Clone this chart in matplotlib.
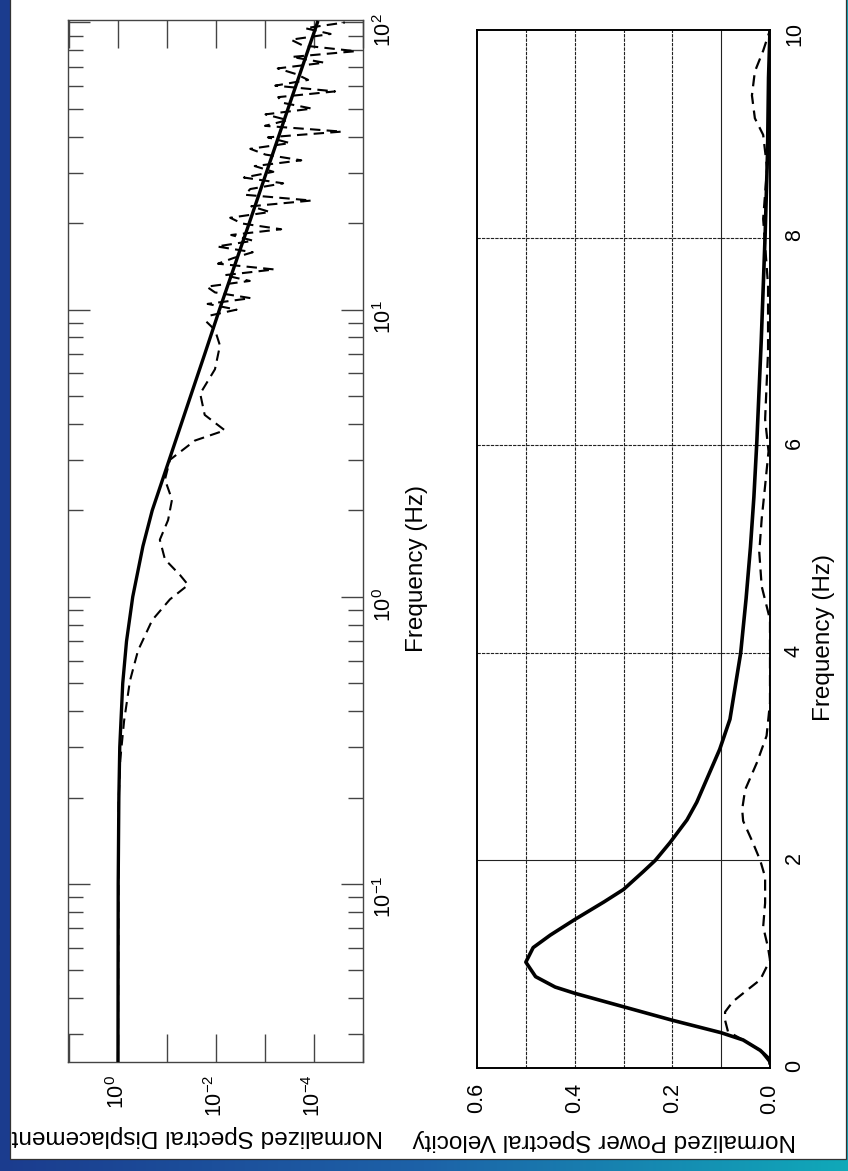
import numpy as np
import matplotlib
matplotlib.use("Agg")
import matplotlib.pyplot as plt
from matplotlib.patches import Rectangle
from matplotlib.colors import LinearSegmentedColormap
from matplotlib.ticker import LogLocator, NullFormatter, NullLocator

plt.rcParams['font.family'] = ['Liberation Sans', 'DejaVu Sans']
plt.rcParams['mathtext.default'] = 'regular'

# --- displacement spectrum (log-log) ---
disp_freq_model = [0.024, 0.1, 0.2, 0.3, 0.5, 0.7, 1.0, 1.5, 2.0, 3.0, 5.0, 7.0, 10.0, 20.0, 50.0, 100.0]
disp_model = [1.0, 0.99, 0.96, 0.92, 0.8, 0.67, 0.5, 0.31, 0.2, 0.09, 0.033, 0.017, 0.0085, 0.0021, 0.00034, 0.000085]

disp_freq_smooth = [0.024, 0.196, 0.27, 0.37, 0.51, 0.65, 0.83, 0.98, 1.1, 1.19, 1.35, 1.58,
                    1.85, 2.18, 2.56, 3.0, 3.5, 3.8, 4.3, 5.1, 6.2, 7.5, 8.5, 9.2]
disp_smooth = [1.0, 0.97, 0.9, 0.75, 0.57, 0.39, 0.2, 0.087, 0.037, 0.054, 0.11, 0.14,
               0.095, 0.079, 0.11, 0.087, 0.027, 0.0066, 0.017, 0.021, 0.0105, 0.0083, 0.0105, 0.017]

# high-frequency part of the observed spectrum, stored as log10 values
disp_logf_rough = [0.98, 1.00, 1.02, 1.04, 1.06, 1.08, 1.10, 1.12, 1.14, 1.16, 1.18, 1.20, 1.22,
                   1.24, 1.26, 1.28, 1.30, 1.32, 1.34, 1.36, 1.38, 1.40, 1.42, 1.44, 1.46, 1.48,
                   1.50, 1.52, 1.54, 1.56, 1.58, 1.60, 1.62, 1.64, 1.66, 1.68, 1.70, 1.72, 1.74,
                   1.76, 1.78, 1.80, 1.82, 1.84, 1.86, 1.88, 1.90, 1.92, 1.94, 1.96, 1.98, 2.00]
disp_logv_rough = [-1.89, -2.42, -1.83, -2.71, -1.98, -1.81, -2.69, -2.17, -3.19, -2.04, -2.36, -2.75, -2.02,
                   -2.76, -2.31, -3.33, -2.53, -2.29, -3.10, -2.72, -3.95, -2.59, -2.70, -3.37, -2.57, -3.17,
                   -2.79, -3.74, -3.01, -2.70, -3.51, -3.06, -4.57, -3.00, -3.46, -3.01, -3.96, -3.37, -3.27,
                   -4.43, -3.21, -3.88, -3.64, -3.26, -4.21, -3.55, -4.85, -3.77, -3.53, -4.34, -3.82, -4.63]

disp_ticks = [1e1, 1e0, 1e-1, 1e-2, 1e-3, 1e-4, 1e-5]
disp_tick_labels = ['', '$10^{0}$', '', '$10^{-2}$', '', '$10^{-4}$', '']

# --- power spectral velocity (linear) ---
vel_freq_model = [0.05, 0.08, 0.17, 0.27, 0.34, 0.46, 0.59, 0.72, 0.78, 0.88, 1.02, 1.16, 1.28, 1.43,
                  1.6, 1.72, 1.89, 2.0, 2.17, 2.39, 2.56, 3.07, 3.36, 4.0, 4.52, 5.02, 5.5, 6.03,
                  7.0, 8.02, 8.83, 9.54, 10.0]
vel_model = [0.0, 0.0, 0.02, 0.055, 0.1, 0.2, 0.3, 0.4, 0.44, 0.48, 0.5, 0.485, 0.45, 0.40,
             0.34, 0.30, 0.26, 0.235, 0.205, 0.17, 0.15, 0.103, 0.082, 0.06, 0.049, 0.040, 0.033, 0.027,
             0.018, 0.01, 0.005, 0.003, 0.0]

vel_freq_data = [0.05, 0.17, 0.27, 0.35, 0.46, 0.54, 0.64, 0.75, 0.85, 1.04, 1.16, 1.36, 1.59, 1.84,
                 2.0, 2.17, 2.38, 2.49, 2.68, 2.94, 3.2, 3.52, 3.84, 4.32, 4.64, 4.97, 5.29, 5.61,
                 5.94, 6.25, 6.9, 7.54, 8.18, 8.67, 8.99, 9.15, 9.37, 9.6, 9.8, 10.0]
vel_data = [0.0, 0.02, 0.055, 0.086, 0.092, 0.092, 0.076, 0.047, 0.02, 0.0, 0.004, 0.014, 0.01, 0.01,
            0.02, 0.035, 0.055, 0.057, 0.051, 0.027, 0.007, 0.0, 0.0, 0.0, 0.017, 0.022, 0.017, 0.01,
            0.003, 0.01, 0.004, 0.004, 0.014, 0.006, 0.014, 0.031, 0.037, 0.031, 0.014, 0.0]

vel_ticks = [0.0, 0.2, 0.4, 0.6]
vel_tick_labels = ['0.0', '0.2', '0.4', '0.6']
freq_ticks = [0, 2, 4, 6, 8, 10]
vel_grid = [0.1, 0.2, 0.3, 0.4, 0.5]
freq_grid = [2, 4, 6, 8]

W, H = 848, 1171
fig = plt.figure(figsize=(W / 100, H / 100), dpi=100)

# slide-style blue frame behind a white card
bg = fig.add_axes([0, 0, 1, 1], zorder=-10)
frame_cmap = LinearSegmentedColormap.from_list('frame', ['#1b3c8e', '#1d62a8', '#10a9b9'])
bg.imshow(np.linspace(0, 1, 256).reshape(1, -1), cmap=frame_cmap, aspect='auto', extent=[0, 1, 0, 1])
bg.add_patch(Rectangle((10 / W, 12 / H), 836 / W, 1.0, facecolor='white', edgecolor='#333333', lw=0.9))
bg.set_xlim(0, 1)
bg.set_ylim(0, 1)
bg.axis('off')

TICK_FS = 15.5
LABEL_FS = 17.5

# ===== displacement panel (axes turned on their side) =====
ax1 = fig.add_axes([68 / W, (H - 1062) / H, 295 / W, 1042 / H])
ax1.set_xscale('log')
ax1.set_yscale('log')
ax1.plot(disp_model, disp_freq_model, color='black', lw=2.4, zorder=3)
ax1.plot(disp_smooth, disp_freq_smooth, color='black', lw=1.5, ls=(0, (5, 3)))
ax1.plot(10 ** np.array(disp_logv_rough), 10 ** np.array(disp_logf_rough),
         color='black', lw=1.5, ls=(0, (5, 3)))
ax1.set_xlim(10 ** 1.02, 1e-5)
ax1.set_ylim(0.024, 102)

ax1.set_xticks(disp_ticks)
ax1.set_xticklabels(disp_tick_labels)
ax1.xaxis.set_minor_locator(NullLocator())
ax1.tick_params(axis='x', which='major', direction='in', length=20, width=1, color='#444444',
                top=True, bottom=True, labelsize=TICK_FS, labelrotation=90, pad=9)

ax1.yaxis.set_major_locator(LogLocator(base=10, numticks=10))
ax1.yaxis.set_minor_locator(LogLocator(base=10, subs=np.arange(2, 10), numticks=10))
ax1.yaxis.set_minor_formatter(NullFormatter())
ax1.tick_params(axis='y', which='both', direction='in', left=True, right=True, color='#444444',
                labelleft=False, labelright=True, labelrotation=90, labelsize=TICK_FS, pad=7)
ax1.tick_params(axis='y', which='major', length=16, width=1)
ax1.tick_params(axis='y', which='minor', length=11, width=1)
for s in ax1.spines.values():
    s.set_color('#444444')
    s.set_linewidth(1.0)

ax1.set_xlabel('Normalized Spectral Displacement', fontsize=LABEL_FS, rotation=180)
ax1.xaxis.set_label_coords(0.44, -0.071)
ax1.xaxis.label.set_va('center')
ax1.xaxis.label.set_rotation_mode('default')
ax1.set_ylabel('Frequency (Hz)', fontsize=LABEL_FS, rotation=90)
ax1.yaxis.set_label_position('right')
ax1.yaxis.set_label_coords(1.183, 0.474)
ax1.yaxis.label.set_ha('center')
ax1.yaxis.label.set_va('center')
ax1.yaxis.label.set_rotation_mode('default')

# ===== velocity panel =====
ax2 = fig.add_axes([477 / W, (H - 1068) / H, 293 / W, 1038 / H])
for v in vel_grid:
    ls = '-' if v == 0.1 else (0, (3, 1))
    ax2.axvline(v, color='#222222', lw=0.8, ls=ls, zorder=1)
for f in freq_grid:
    ls = '-' if f == 2 else (0, (3, 1))
    ax2.axhline(f, color='#222222', lw=0.8, ls=ls, zorder=1)
ax2.plot(vel_model, vel_freq_model, color='black', lw=2.6, zorder=3)
ax2.plot(vel_data, vel_freq_data, color='black', lw=1.6, ls=(0, (5, 3)), zorder=3)
ax2.set_xlim(0.6, 0.0)
ax2.set_ylim(0, 10)

ax2.set_xticks(vel_ticks)
ax2.set_xticklabels(vel_tick_labels)
ax2.set_yticks(freq_ticks)
ax2.tick_params(axis='x', length=0, labelsize=TICK_FS, labelrotation=90, pad=11)
ax2.tick_params(axis='y', length=0, left=False, right=True, labelleft=False, labelright=True,
                labelsize=TICK_FS, labelrotation=90, pad=10)
for s in ax2.spines.values():
    s.set_color('black')
    s.set_linewidth(1.4)

ax2.set_xlabel('Normalized Power Spectral Velocity', fontsize=LABEL_FS, rotation=180)
ax2.xaxis.set_label_coords(0.433, -0.069)
ax2.xaxis.label.set_va('center')
ax2.xaxis.label.set_rotation_mode('default')
ax2.set_ylabel('Frequency (Hz)', fontsize=LABEL_FS, rotation=90)
ax2.yaxis.set_label_position('right')
ax2.yaxis.set_label_coords(1.184, 0.415)
ax2.yaxis.label.set_ha('center')
ax2.yaxis.label.set_va('center')
ax2.yaxis.label.set_rotation_mode('default')

fig.savefig('out.png', dpi=100)
